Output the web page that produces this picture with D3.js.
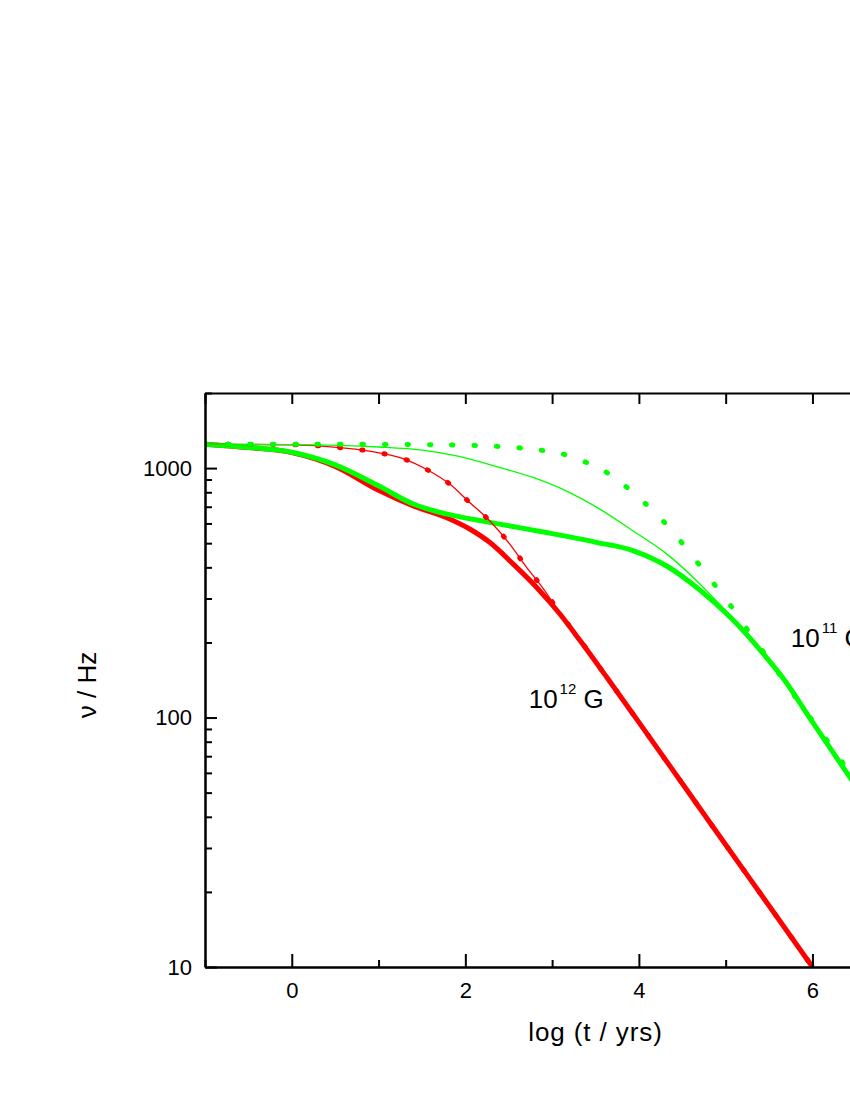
<!DOCTYPE html>
<html>
<head>
<meta charset="utf-8">
<script src="https://cdn.jsdelivr.net/npm/d3@7"></script>
<style>
  body { margin: 0; background: #fff; }
  svg { display: block; font-family: 'Liberation Sans', Arial, sans-serif; }
</style>
</head>
<body>
<div id="chart"></div>
<script>
// log(t / yrs) and frequency (Hz), one pair of arrays per curve

// 10^12 G, full model (thick red)
var tRed12 = [-1, -0.5, 0, 0.5, 1.0, 1.4, 1.78, 2.05, 2.28, 2.55, 2.82, 3.09, 3.32, 3.63, 3.97, 4.5, 5, 5.5, 6]
var nuRed12 = [1247, 1208, 1154, 1015, 815, 706, 634, 570, 504, 413, 333, 260, 204, 145, 99, 54.4, 30.9, 17.6, 10]

// 10^12 G, simple model (thin red, also drawn dotted)
var tRed12b = [-1, 0, 0.55, 1.05, 1.32, 1.56, 1.82, 2.05, 2.28, 2.51, 2.7, 2.9, 3.09, 3.32, 3.63, 3.97, 4.5, 5, 5.5, 6]
var nuRed12b = [1247, 1240, 1209, 1144, 1079, 985, 863, 728, 615, 497, 403, 328, 262, 205, 145, 99, 54.4, 30.9, 17.6, 10]

// 10^11 G, full model (thick green)
var tGreen11 = [-1, -0.5, 0, 0.5, 1.0, 1.4, 1.78, 2.28, 2.93, 3.51, 3.93, 4.32, 4.7, 5.08, 5.47, 5.66, 6.0, 6.43, 7]
var nuGreen11 = [1247, 1210, 1157, 1030, 849, 718, 655, 606, 552, 504, 467, 405, 325, 247, 174, 144, 96, 57.7, 30]

// 10^11 G, simple model (thin green)
var tGreen11b = [-1, 0, 1, 1.5, 1.9, 2.4, 2.78, 3.16, 3.55, 3.93, 4.32, 4.7, 4.89, 5.08, 5.47, 5.66, 6, 6.43, 7]
var nuGreen11b = [1247, 1243, 1215, 1180, 1120, 1005, 917, 811, 685, 561, 453, 344, 294, 251, 176, 145, 96, 57.7, 30]

// 10^11 G, third model (green dots)
var tGreen11c = [-1, 0, 1, 2, 2.57, 2.84, 3.1, 3.35, 3.61, 3.86, 4.11, 4.35, 4.56, 4.76, 4.95, 5.14, 5.32, 5.5, 5.68, 5.87, 6.18, 6.43, 7]
var nuGreen11c = [1247, 1247, 1245, 1235, 1209, 1184, 1144, 1069, 969, 838, 702, 577, 470, 383, 314, 257, 207, 171, 139, 112, 80, 60, 31]

var xMajor = [0, 2, 4, 6]
var xMinor = [-1, 1, 3, 5, 7]
var yMajor = [10, 100, 1000]
var yMinor = [20, 30, 40, 50, 60, 70, 80, 90, 200, 300, 400, 500, 600, 700, 800, 900, 2000]

// curve labels: exponent and anchor (log t, Hz)
var curveLabels = [
  { exp: '12', t: 2.73, nu: 109 },
  { exp: '11', t: 5.75, nu: 192 }
]

var pairs = (ts, vs) => ts.map((t, i) => [t, vs[i]])

var width = 850
var height = 1100
var plot = { left: 205, right: 986, top: 393, bottom: 967 }

var svg = d3
  .select('#chart')
  .append('svg')
  .attr('width', width)
  .attr('height', height)

var x = d3.scaleLinear().domain([-1, 8]).range([plot.left, plot.right])
var y = d3.scaleLog().domain([10, 2000]).range([plot.bottom, plot.top])

svg
  .append('clipPath')
  .attr('id', 'clip')
  .append('rect')
  .attr('x', plot.left)
  .attr('y', plot.top)
  .attr('width', plot.right - plot.left)
  .attr('height', plot.bottom - plot.top)

var line = d3
  .line()
  .x(d => x(d[0]))
  .y(d => y(d[1]))
  .curve(d3.curveMonotoneX)

var curves = svg.append('g').attr('clip-path', 'url(#clip)')

// dot pattern spaced along the path like the original plotting program did
function dotDash(node, step, k, dash) {
  var total = node.getTotalLength()
  var marks = [0]
  var prev = node.getPointAtLength(0)
  var acc = 0
  for (var l = 0.5; l <= total; l += 0.5) {
    var p = node.getPointAtLength(l)
    var dy = (p.y - prev.y) / k
    acc += Math.sqrt((p.x - prev.x) * (p.x - prev.x) + dy * dy)
    prev = p
    if (acc >= step) {
      marks.push(l)
      acc -= step
    }
  }
  var parts = []
  marks.forEach((m, i) => {
    var next = i + 1 < marks.length ? marks[i + 1] : total + 50
    parts.push(dash, Math.max(0.1, next - m - dash))
  })
  return parts.join(' ')
}

function addCurve(data, color, w) {
  return curves
    .append('path')
    .datum(data)
    .attr('d', line)
    .attr('fill', 'none')
    .attr('stroke', color)
    .attr('stroke-width', w)
}

addCurve(pairs(tRed12, nuRed12), '#ff0000', 5)
addCurve(pairs(tGreen11, nuGreen11), '#00ff00', 5)
addCurve(pairs(tRed12b, nuRed12b), '#ff0000', 1.3)

var redDots = addCurve(pairs(tRed12b, nuRed12b), '#ff0000', 5)
redDots
  .attr('stroke-linecap', 'round')
  .attr('stroke-dasharray', dotDash(redDots.node(), 22.4, 1.42, 1.2))

addCurve(pairs(tGreen11b, nuGreen11b), '#00ff00', 1.3)

var greenDots = addCurve(pairs(tGreen11c, nuGreen11c), '#00ff00', 5)
greenDots
  .attr('stroke-linecap', 'round')
  .attr('stroke-dasharray', dotDash(greenDots.node(), 22.4, 1.42, 1.5))

// axes, ticks pointing inward
function styleAxis(g) {
  g.selectAll('path, line').attr('stroke', '#000').attr('stroke-width', 2)
  g.selectAll('text').attr('fill', '#000').attr('font-size', 22)
  g.attr('font-family', null)
}

svg
  .append('g')
  .attr('transform', 'translate(0,' + plot.bottom + ')')
  .call(d3.axisBottom(x).tickValues(xMajor).tickSize(-13).tickSizeOuter(0).tickPadding(15).tickFormat(d3.format('d')))
  .call(styleAxis)

svg
  .append('g')
  .attr('transform', 'translate(0,' + plot.bottom + ')')
  .call(d3.axisBottom(x).tickValues(xMinor).tickSize(-7).tickSizeOuter(0).tickFormat(''))
  .call(styleAxis)

svg
  .append('g')
  .attr('transform', 'translate(0,' + plot.top + ')')
  .call(d3.axisTop(x).tickValues(xMajor.concat(xMinor)).tickSize(-11).tickSizeOuter(0).tickFormat(''))
  .call(styleAxis)

svg
  .append('g')
  .attr('transform', 'translate(' + plot.left + ',0)')
  .call(d3.axisLeft(y).tickValues(yMajor).tickSize(-12).tickSizeOuter(0).tickPadding(13).tickFormat(d3.format('d')))
  .call(styleAxis)

svg
  .append('g')
  .attr('transform', 'translate(' + plot.left + ',0)')
  .call(d3.axisLeft(y).tickValues(yMinor).tickSize(-7).tickSizeOuter(0).tickFormat(''))
  .call(styleAxis)

svg
  .append('g')
  .attr('transform', 'translate(' + plot.right + ',0)')
  .call(d3.axisRight(y).tickValues(yMajor).tickSize(-12).tickSizeOuter(0).tickFormat(''))
  .call(styleAxis)

// axis titles
svg
  .append('text')
  .attr('x', (plot.left + plot.right) / 2)
  .attr('y', 1041)
  .attr('text-anchor', 'middle')
  .attr('font-size', 26)
  .attr('letter-spacing', 0.9)
  .text('log (t / yrs)')

svg
  .append('text')
  .attr('transform', 'translate(96,685) rotate(-90)')
  .attr('text-anchor', 'middle')
  .attr('font-size', 26)
  .text('ν / Hz')

// field strength labels
curveLabels.forEach(d => {
  var t = svg
    .append('text')
    .attr('x', x(d.t))
    .attr('y', y(d.nu))
    .attr('font-size', 26)
  t.append('tspan').text('10')
  t.append('tspan').attr('dx', 2).attr('dy', -14).attr('font-size', 15).text(d.exp)
  t.append('tspan').attr('dy', 14).text(' G')
})
</script>
</body>
</html>
